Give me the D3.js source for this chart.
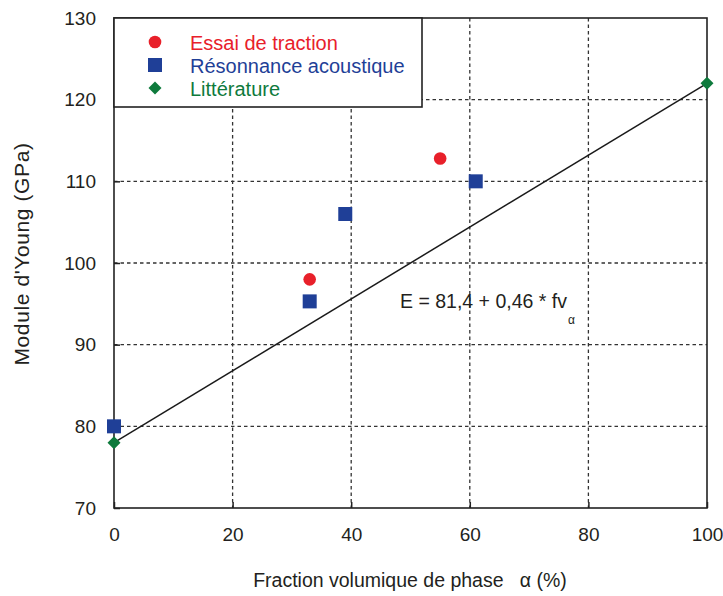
<!DOCTYPE html>
<html>
<head>
<meta charset="utf-8">
<script src="https://cdn.jsdelivr.net/npm/d3@7"></script>
<style>
  html, body { margin: 0; padding: 0; background: #fff; }
  svg { display: block; font-family: "Liberation Sans", Arial, sans-serif; }
</style>
</head>
<body>
<svg id="chart" width="723" height="596"></svg>
<script>
// Young's modulus vs. alpha-phase volume fraction
const xTicks = [0, 20, 40, 60, 80, 100];
const yTicks = [70, 80, 90, 100, 110, 120, 130];

const tractionX = [33, 55];
const tractionY = [98, 112.8];

const resonanceX = [0, 33, 39, 61];
const resonanceY = [80, 95.3, 106, 110];

const litteratureX = [0, 100];
const litteratureY = [78, 122];

// Trend line drawn between its end points
const trendX = [0, 100];
const trendY = [78, 122];

const seriesNames = ["Essai de traction", "Résonnance acoustique", "Littérature"];
const seriesColors = ["#e8202a", "#1f3f97", "#0e7a3c"];

const svg = d3.select("#chart");
const plotL = 114, plotR = 707, plotT = 18, plotB = 508;
const ink = "#231f20";

const x = d3.scaleLinear().domain([0, 100]).range([plotL, plotR]);
const y = d3.scaleLinear().domain([70, 130]).range([plotB, plotT]);

// Grid lines
const grid = svg.append("g").attr("stroke", "#333").attr("stroke-width", 1.3)
  .attr("stroke-dasharray", "3.5,3");
grid.selectAll("line.gx").data(xTicks.slice(1, -1)).join("line")
  .attr("x1", d => x(d)).attr("x2", d => x(d))
  .attr("y1", plotT).attr("y2", plotB);
grid.selectAll("line.gy").data(yTicks.slice(1, -1)).join("line")
  .attr("y1", d => y(d)).attr("y2", d => y(d))
  .attr("x1", plotL).attr("x2", plotR);

// Axes with inward ticks
const xAxis = svg.append("g").attr("transform", `translate(0,${plotB})`)
  .call(d3.axisBottom(x).tickValues(xTicks).tickSizeInner(-6).tickSizeOuter(0).tickPadding(20));
const yAxis = svg.append("g").attr("transform", `translate(${plotL},0)`)
  .call(d3.axisLeft(y).tickValues(yTicks).tickSizeInner(-6).tickSizeOuter(0).tickPadding(18));
[xAxis, yAxis].forEach(a => {
  a.select(".domain").remove();
  a.selectAll("line").attr("stroke", "#222").attr("stroke-width", 1.5);
  a.selectAll("text").attr("font-size", 19).attr("fill", ink)
    .attr("font-family", "Liberation Sans, Arial, sans-serif");
});

// Frame
svg.append("rect").attr("x", plotL).attr("y", plotT)
  .attr("width", plotR - plotL).attr("height", plotB - plotT)
  .attr("fill", "none").attr("stroke", "#222").attr("stroke-width", 1.6);

// Axis titles
svg.append("text").attr("x", 410).attr("y", 587).attr("text-anchor", "middle")
  .attr("font-size", 19.5).attr("fill", ink)
  .text("Fraction volumique de phase\u00a0\u00a0 α (%)");
svg.append("text").attr("transform", "translate(29,254) rotate(-90)")
  .attr("text-anchor", "middle").attr("font-size", 21).attr("fill", ink)
  .attr("letter-spacing", 0.6)
  .text("Module d'Young (GPa)");

// Trend line
svg.append("line")
  .attr("x1", x(trendX[0])).attr("y1", y(trendY[0]))
  .attr("x2", x(trendX[1])).attr("y2", y(trendY[1]))
  .attr("stroke", "#1a1a1a").attr("stroke-width", 1.5);

// Equation
const eq = svg.append("text").attr("x", 400).attr("y", 308)
  .attr("font-size", 19.5).attr("fill", ink);
eq.append("tspan").text("E = 81,4 + 0,46 * fv");
eq.append("tspan").attr("font-size", 12).attr("dx", 1).attr("dy", 16).text("α");

// Markers
const circle = (g, cx, cy) => g.append("circle").attr("cx", cx).attr("cy", cy).attr("r", 6.3)
  .attr("fill", seriesColors[0]);
const square = (g, cx, cy) => g.append("rect").attr("x", cx - 7).attr("y", cy - 7)
  .attr("width", 14).attr("height", 14).attr("fill", seriesColors[1]);
const diamond = (g, cx, cy) => g.append("path")
  .attr("d", `M${cx},${cy - 6.5}L${cx + 6.5},${cy}L${cx},${cy + 6.5}L${cx - 6.5},${cy}Z`)
  .attr("fill", seriesColors[2]);

const marks = svg.append("g");
resonanceX.forEach((d, i) => square(marks, x(d), y(resonanceY[i])));
tractionX.forEach((d, i) => circle(marks, x(d), y(tractionY[i])));
litteratureX.forEach((d, i) => diamond(marks, x(d), y(litteratureY[i])));

// Legend
const lg = svg.append("g");
lg.append("rect").attr("x", 114).attr("y", 18).attr("width", 308).attr("height", 89)
  .attr("fill", "#fff").attr("stroke", "#222").attr("stroke-width", 1.6);
const drawers = [circle, square, diamond];
seriesNames.forEach((name, i) => {
  const cy = 42 + i * 23;
  drawers[i](lg, 155, cy);
  lg.append("text").attr("x", 190).attr("y", cy + 7.5).attr("font-size", 20)
    .attr("fill", seriesColors[i]).text(name);
});
</script>
</body>
</html>
